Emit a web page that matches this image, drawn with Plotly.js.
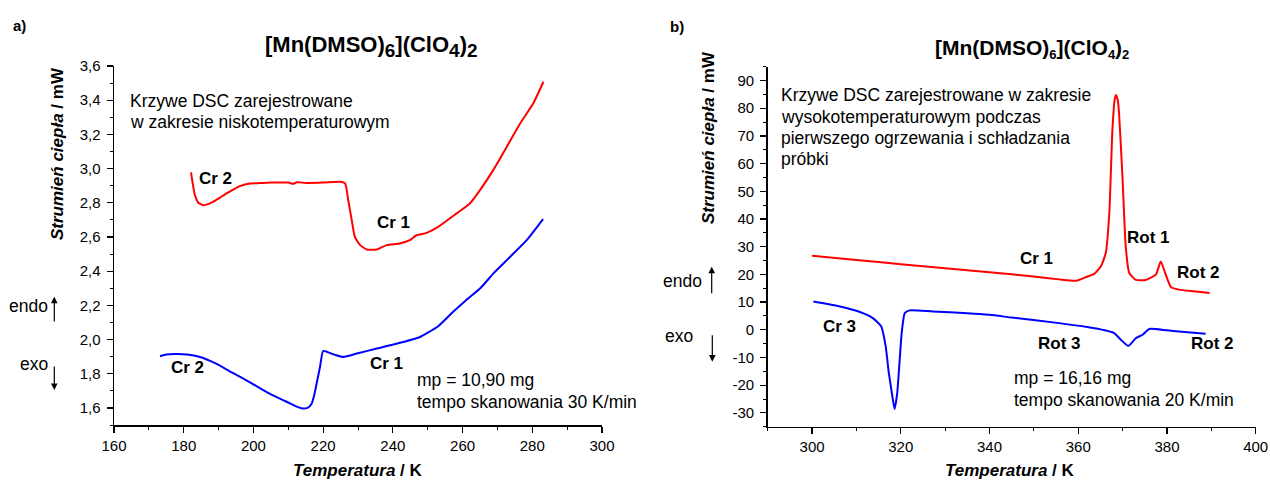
<!DOCTYPE html>
<html>
<head>
<meta charset="utf-8">
<script src="https://cdn.plot.ly/plotly-3.0.1.min.js"></script>
<style>html,body{margin:0;padding:0;background:#fff;}#chart{width:1270px;height:480px;}</style>
</head>
<body>
<div id="chart"></div>
<script>
// ---- data: panel a) low-temperature DSC ----
const tempA_heat = [182.1, 182.6, 183.2, 184.2, 185.6, 187.0, 188.5, 190.4, 192.3, 194.2, 196.1, 199.0, 201.9, 205, 210, 211.4, 212.5, 215, 220, 224.8, 226.3, 227.2, 228.2, 229.1, 230.6, 232.5, 235.4, 238.2, 242.0, 244.9, 246.8, 249.7, 253.0, 258.3, 262.1, 265.0, 268.8, 272.7, 276.5, 280.3, 283.2];
const flowA_heat = [2.978, 2.91, 2.845, 2.80, 2.786, 2.792, 2.806, 2.83, 2.855, 2.877, 2.897, 2.913, 2.915, 2.918, 2.918, 2.911, 2.92, 2.916, 2.918, 2.923, 2.913, 2.815, 2.698, 2.60, 2.552, 2.527, 2.527, 2.552, 2.562, 2.581, 2.61, 2.624, 2.659, 2.738, 2.796, 2.874, 2.991, 3.128, 3.264, 3.382, 3.508];
const tempA_cool = [173.2, 175, 177.5, 181, 184.7, 189, 194.2, 199, 203.8, 207, 210.5, 213, 214.3, 215.5, 216.7, 217.5, 218.3, 219.1, 220.0, 221.5, 223.5, 225.8, 230, 235.4, 241, 247.8, 250, 253.0, 257.3, 261, 265.0, 269, 273.6, 278.4, 283.1];
const flowA_cool = [1.902, 1.912, 1.915, 1.913, 1.898, 1.862, 1.803, 1.75, 1.693, 1.66, 1.627, 1.603, 1.596, 1.60, 1.625, 1.68, 1.76, 1.84, 1.933, 1.925, 1.91, 1.898, 1.92, 1.947, 1.975, 2.015, 2.04, 2.078, 2.162, 2.23, 2.298, 2.39, 2.483, 2.581, 2.704];

// ---- data: panel b) high-temperature DSC ----
const tempB_heat = [300, 310, 320, 330, 340, 350, 355.7, 359.5, 361.7, 363.6, 365.1, 366.2, 367.0, 367.7, 368.2, 368.5, 368.9, 369.2, 370.0, 370.7, 371.5, 373.0, 375.2, 377.5, 378.6, 379.6, 380.9, 382.7, 386, 389.6];
const flowB_heat = [26.7, 25.2, 23.7, 22.2, 20.8, 19.2, 18.2, 17.7, 19.0, 20.2, 22.9, 27.7, 42.1, 72.2, 83, 84.8, 83, 78.2, 54.1, 30.1, 20.5, 18.0, 18.0, 19.9, 24.7, 20.5, 15.4, 14.5, 13.9, 13.3];
const tempB_cool = [300.3, 306.3, 310.8, 313.7, 315.6, 316.6, 317.3, 318.1, 318.6, 319.2, 319.7, 320.2, 320.9, 322.0, 327.2, 335, 340, 345, 355.7, 362, 366, 368.1, 369.6, 371.3, 373.0, 374.5, 376.0, 380, 384, 388.7];
const flowB_cool = [10.2, 8.4, 6.4, 4.2, 1.2, -6.0, -15.6, -24.0, -28.6, -22.8, -12.0, -1.2, 6.0, 7.0, 6.6, 6.0, 5.4, 4.4, 2.4, 1.0, -0.2, -1.2, -3.6, -5.8, -3.0, -1.8, 0.3, -0.2, -0.8, -1.4];

// ---- tick labels ----
const yTicksA = [1.6, 1.8, 2.0, 2.2, 2.4, 2.6, 2.8, 3.0, 3.2, 3.4, 3.6];
const yTickTextA = ["1,6", "1,8", "2,0", "2,2", "2,4", "2,6", "2,8", "3,0", "3,2", "3,4", "3,6"];
const yTicksB = [-30, -20, -10, 0, 10, 20, 30, 40, 50, 60, 70, 80, 90];
const yTickTextB = ["-30", "-20", "-10", "0", "10", "20", "30", "40", "50", "60", "70", "80", "90"];

const W = 1270, H = 480;
const FONT = "Liberation Sans, Arial, Helvetica, sans-serif";
const px = x => x / W;
const py = y => 1 - y / H;

function ann(text, x, y, size, opts) {
  return Object.assign({
    text: text, xref: 'paper', yref: 'paper', x: px(x), y: py(y),
    showarrow: false, xanchor: 'center', yanchor: 'middle',
    font: {family: FONT, size: size, color: '#000'}
  }, opts || {});
}
function arrow(x, yHead, yTail) {
  return {
    text: ' ', xref: 'paper', yref: 'paper', x: px(x), y: py(yHead),
    showarrow: true, ax: 0, ay: yTail - yHead, axref: 'pixel', ayref: 'pixel',
    arrowhead: 2, arrowsize: 1.1, arrowwidth: 1.2, arrowcolor: '#000'
  };
}

const lineStyle = c => ({color: c, width: 2, shape: 'spline', smoothing: 0.5});

const traces = [
  {x: tempA_heat, y: flowA_heat, xaxis: 'x', yaxis: 'y', mode: 'lines', line: lineStyle('#ff0000'), showlegend: false},
  {x: tempA_cool, y: flowA_cool, xaxis: 'x', yaxis: 'y', mode: 'lines', line: lineStyle('#0000ff'), showlegend: false},
  {x: tempB_heat, y: flowB_heat, xaxis: 'x2', yaxis: 'y2', mode: 'lines', line: lineStyle('#ff0000'), showlegend: false},
  {x: tempB_cool, y: flowB_cool, xaxis: 'x2', yaxis: 'y2', mode: 'lines', line: lineStyle('#0000ff'), showlegend: false}
];

const axBase = {
  showline: true, linecolor: '#000', linewidth: 1.5, mirror: false,
  ticks: 'outside', ticklen: 6, tickwidth: 1.2, tickcolor: '#000',
  showgrid: false, zeroline: false, fixedrange: true,
  tickfont: {family: FONT, size: 15, color: '#000'}
};

const layout = {
  width: W, height: H,
  margin: {l: 0, r: 0, t: 0, b: 0},
  paper_bgcolor: '#fff', plot_bgcolor: '#fff',
  font: {family: FONT, color: '#000'},
  xaxis: Object.assign({}, axBase, {domain: [114/W, 602/W], range: [160, 300], tick0: 160, dtick: 20, anchor: 'y',
    minor: {ticks: 'outside', ticklen: 3, tickwidth: 1, tickcolor: '#000', dtick: 10, tick0: 160}}),
  yaxis: Object.assign({}, axBase, {domain: [1 - 425/H, 1 - 66/H], range: [1.5, 3.6], tickvals: yTicksA, ticktext: yTickTextA, anchor: 'x', ticklabelstandoff: 3,
    minor: {ticks: 'outside', ticklen: 3, tickwidth: 1, tickcolor: '#000', dtick: 0.1, tick0: 1.5}}),
  xaxis2: Object.assign({}, axBase, {domain: [767.7/W, 1255.7/W], range: [290, 400], tick0: 300, dtick: 20, anchor: 'y2',
    minor: {ticks: 'outside', ticklen: 3, tickwidth: 1, tickcolor: '#000', dtick: 10, tick0: 290}}),
  yaxis2: Object.assign({}, axBase, {domain: [1 - 426.7/H, 1 - 66.7/H], range: [-35, 95], tickvals: yTicksB, ticktext: yTickTextB, anchor: 'x2', ticklabelstandoff: 3,
    minor: {ticks: 'outside', ticklen: 3, tickwidth: 1, tickcolor: '#000', dtick: 5, tick0: -35}}),
  annotations: [
    // panel letters
    ann('<b>a)</b>', 19, 25, 15),
    ann('<b>b)</b>', 677, 26, 15),
    // titles
    ann('<b>[Mn(DMSO)<sub><span style="font-size:19px">6</span></sub>](ClO<sub><span style="font-size:19px">4</span></sub>)<sub><span style="font-size:19px">2</span></sub></b>', 371, 47, 22),
    ann('<b>[Mn(DMSO)<sub><span style="font-size:13px">6</span></sub>](ClO<sub><span style="font-size:13px">4</span></sub>)<sub><span style="font-size:13px">2</span></sub></b>', 1032, 49, 21),
    // axis titles
    ann('<b><i>Strumień ciepła</i> / mW</b>', 57, 154, 17, {textangle: -90}),
    ann('<b><i>Strumień ciepła</i> / mW</b>', 708, 138, 17, {textangle: -90}),
    ann('<b><i>Temperatura</i> / K</b>', 358, 470, 17),
    ann('<b><i>Temperatura</i> / K</b>', 1010, 470, 17),
    // descriptive text panel a
    ann('Krzywe DSC zarejestrowane', 127.7, 100.7, 17.5, {xanchor: 'left'}),
    ann('w zakresie niskotemperaturowym', 127.7, 121.7, 17.5, {xanchor: 'left'}),
    ann('mp = 10,90 mg', 415, 380, 17.5, {xanchor: 'left'}),
    ann('tempo skanowania 30 K/min', 415, 402.3, 17.5, {xanchor: 'left'}),
    // descriptive text panel b
    ann('Krzywe DSC zarejestrowane w zakresie', 779.3, 95, 17.5, {xanchor: 'left'}),
    ann('wysokotemperaturowym podczas', 779.3, 116.7, 17.5, {xanchor: 'left'}),
    ann('pierwszego ogrzewania i schładzania', 779.3, 137.7, 17.5, {xanchor: 'left'}),
    ann('próbki', 779.3, 158.7, 17.5, {xanchor: 'left'}),
    ann('mp = 16,16 mg', 1011.7, 378.3, 17.5, {xanchor: 'left'}),
    ann('tempo skanowania 20 K/min', 1011.7, 400.3, 17.5, {xanchor: 'left'}),
    // phase labels panel a
    ann('<b>Cr 2</b>', 215.5, 178, 17),
    ann('<b>Cr 1</b>', 393, 222, 17),
    ann('<b>Cr 2</b>', 187.5, 367, 17),
    ann('<b>Cr 1</b>', 386, 363, 17),
    // phase labels panel b
    ann('<b>Cr 1</b>', 1036.7, 258, 17),
    ann('<b>Rot 1</b>', 1148.5, 237, 17),
    ann('<b>Rot 2</b>', 1198, 272.7, 17),
    ann('<b>Rot 3</b>', 1059.7, 343, 17),
    ann('<b>Rot 2</b>', 1212, 343, 17),
    ann('<b>Cr 3</b>', 839.3, 326, 17),
    // endo / exo
    ann('endo', 28, 305.7, 17.5),
    ann('exo', 33.5, 364, 17.5),
    arrow(54.3, 296.7, 330),
    arrow(54.3, 390, 358),
    ann('endo', 682, 280.7, 17.5),
    ann('exo', 679, 336, 17.5),
    arrow(711.7, 266.7, 301.7),
    arrow(712.3, 361.7, 326.7)
  ]
};

Plotly.newPlot('chart', traces, layout, {staticPlot: true, displayModeBar: false});
</script>
</body>
</html>
